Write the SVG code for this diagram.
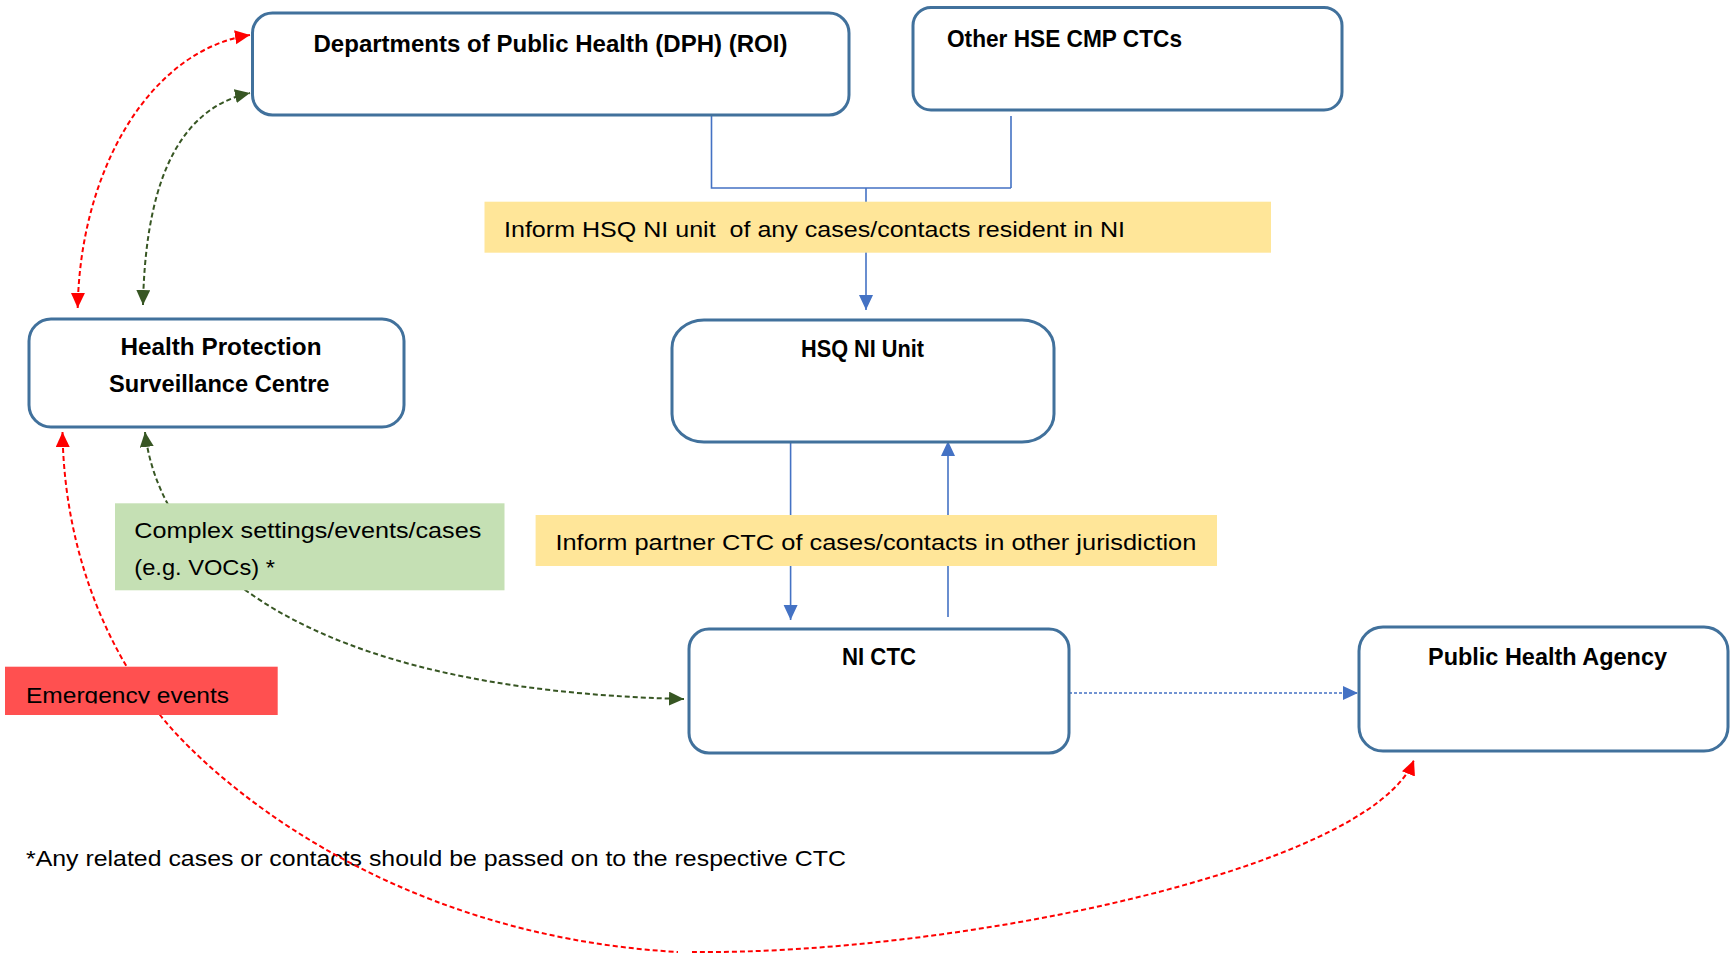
<svg xmlns="http://www.w3.org/2000/svg" width="1730" height="956" viewBox="0 0 1730 956">
<style>
text{font-family:"Liberation Sans",Arial,sans-serif;fill:#000}
.t{font-weight:bold;font-size:24px}
.r{font-size:22px}
.box{fill:#fff;stroke:#41719C;stroke-width:3}
.blue{fill:none;stroke:#4472C4;stroke-width:1.6}
.red{fill:none;stroke:#FF0000;stroke-width:2;stroke-dasharray:5 3}
.grn{fill:none;stroke:#375623;stroke-width:2;stroke-dasharray:5 3}
</style>
<defs>
<marker id="ab" markerUnits="userSpaceOnUse" markerWidth="16" markerHeight="15" refX="15" refY="7" orient="auto-start-reverse"><path d="M0,0 L15,7 L0,14 z" fill="#4472C4"/></marker>
<marker id="ar" markerUnits="userSpaceOnUse" markerWidth="16" markerHeight="15" refX="15" refY="7" orient="auto-start-reverse"><path d="M0,0 L15,7 L0,14 z" fill="#FF0000"/></marker>
<marker id="ag" markerUnits="userSpaceOnUse" markerWidth="16" markerHeight="15" refX="15" refY="7" orient="auto-start-reverse"><path d="M0,0 L15,7 L0,14 z" fill="#375623"/></marker>
<clipPath id="clipE"><rect x="5" y="666" width="273" height="37.5"/></clipPath>
</defs>
<rect width="1730" height="956" fill="#fff"/>

<g id="footnote">
<text class="r" x="26" y="866" textLength="820" lengthAdjust="spacingAndGlyphs">*Any related cases or contacts should be passed on to the respective CTC</text>
</g>

<g id="connectors">
<path class="blue" d="M711.5,115 V188 H1011 M1011,116 V188"/>
<path class="blue" d="M866,188 V310" marker-end="url(#ab)"/>
<path class="blue" d="M790.6,442 V620" marker-end="url(#ab)"/>
<path class="blue" d="M948,617 V441" marker-end="url(#ab)"/>
<path class="blue" d="M1069,693 H1358" stroke-dasharray="3 2" marker-end="url(#ab)"/>
<path class="red" d="M77.7,308 C80,170 150,50 250,35" marker-start="url(#ar)" marker-end="url(#ar)"/>
<path class="grn" d="M143,305 C145,200 170,110 250,93" marker-start="url(#ag)" marker-end="url(#ag)"/>
<path class="grn" d="M145,432 C160,560 300,690 684,699" marker-start="url(#ag)" marker-end="url(#ag)"/>
<path class="red" d="M62.5,432 C64,540 100,640 160,715 C205,772 380,935 678,952 M692,952 C950,955 1370,870 1414,760" marker-start="url(#ar)" marker-end="url(#ar)"/>
</g>

<g id="dph">
<rect class="box" x="252.5" y="13" width="596.5" height="102" rx="20"/>
<text class="t" x="313.5" y="52" textLength="474" lengthAdjust="spacingAndGlyphs">Departments of Public Health (DPH) (ROI)</text>
</g>
<g id="other-hse">
<rect class="box" x="913" y="7.5" width="429" height="102.5" rx="18"/>
<text class="t" x="947" y="47" textLength="235" lengthAdjust="spacingAndGlyphs">Other HSE CMP CTCs</text>
</g>
<g id="label-inform-hsq">
<rect x="484.5" y="201.7" width="786.5" height="51" fill="#FFE699"/>
<text class="r" x="504" y="237" xml:space="preserve" textLength="621" lengthAdjust="spacingAndGlyphs">Inform HSQ NI unit  of any cases/contacts resident in NI</text>
</g>
<g id="hsq-ni-unit">
<rect class="box" x="672" y="320" width="382" height="122" rx="32" ry="28"/>
<text class="t" x="801" y="357" textLength="123" lengthAdjust="spacingAndGlyphs">HSQ NI Unit</text>
</g>
<g id="label-inform-partner">
<rect x="535.6" y="515" width="681.4" height="51" fill="#FFE699"/>
<text class="r" x="555.4" y="550" textLength="641" lengthAdjust="spacingAndGlyphs">Inform partner CTC of cases/contacts in other jurisdiction</text>
</g>
<g id="ni-ctc">
<rect class="box" x="689" y="629" width="380" height="124" rx="20"/>
<text class="t" x="842" y="665" textLength="74" lengthAdjust="spacingAndGlyphs">NI CTC</text>
</g>
<g id="pha">
<rect class="box" x="1359" y="627" width="369" height="124" rx="24"/>
<text class="t" x="1428" y="665" textLength="239" lengthAdjust="spacingAndGlyphs">Public Health Agency</text>
</g>
<g id="hpsc">
<rect class="box" x="29" y="319" width="375" height="108" rx="22"/>
<text class="t" x="120.5" y="355" textLength="201" lengthAdjust="spacingAndGlyphs">Health Protection</text>
<text class="t" x="109" y="392" textLength="220.5" lengthAdjust="spacingAndGlyphs">Surveillance Centre</text>
</g>
<g id="label-complex">
<rect x="115" y="503.3" width="389.5" height="87" fill="#C5E0B4"/>
<text class="r" x="134.3" y="537.5" textLength="347" lengthAdjust="spacingAndGlyphs">Complex settings/events/cases</text>
<text class="r" x="134.3" y="575" textLength="140.6" lengthAdjust="spacingAndGlyphs">(e.g. VOCs) *</text>
</g>
<g id="label-emergency">
<rect x="5" y="666.7" width="272.7" height="48.3" fill="#FF5050"/>
<text class="r" x="26" y="703" textLength="203" lengthAdjust="spacingAndGlyphs" clip-path="url(#clipE)">Emergency events</text>
</g>
</svg>
